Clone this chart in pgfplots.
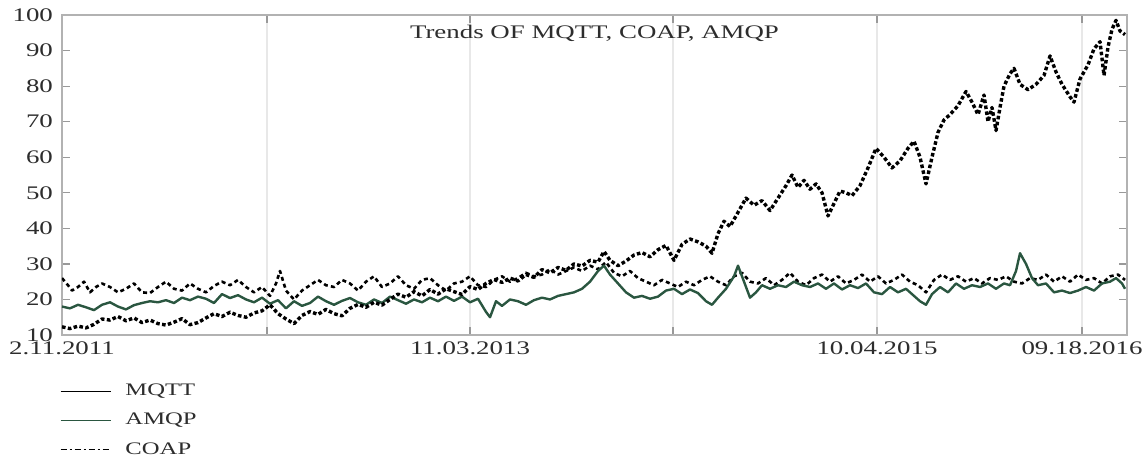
\documentclass[border=0pt]{standalone}
\usepackage{fontspec}
\setmainfont[FakeStretch=1.4]{Liberation Serif}
\usepackage{pgfplots}
\pgfplotsset{compat=1.18}
\definecolor{amqpgreen}{RGB}{42,86,64}
\definecolor{txt}{RGB}{45,45,45}
\begin{document}
\begin{tikzpicture}[font=\fontsize{9.6}{11.5}\selectfont]
\path[use as bounding box] (0,0) rectangle (572pt,228pt);
\begin{axis}[
  at={(31pt,60.5pt)}, anchor=south west,
  scale only axis, width=532.5pt, height=160pt,
  xmin=62, xmax=1127, ymin=10, ymax=100,
  xtick={62,267,470,673,877,1082},
  xticklabels={2.11.2011,,11.03.2013,,10.04.2015,09.18.2016},
  ytick={10,20,...,100},
  /pgf/number format/assume math mode=true,
  tick align=inside, xtick pos=both, ytick pos=both,
  major tick length=4pt,
  tick style={black!40, line width=0.6pt},
  axis line style={black!30, line width=0.7pt},
  xmajorgrids, grid style={black!9, line width=0.9pt},
  ticklabel style={text=txt},
  yticklabel style={xshift=-1pt},
  legend image code/.code={\draw[#1] (0pt,0pt) -- (25pt,0pt);},
  legend style={at={(-0.008,-0.127)}, anchor=north west, draw=none, fill=none,
    text=txt, row sep=3.3pt, font=\fontsize{8.8}{10.5}\selectfont,
    /tikz/every odd column/.append style={column sep=5pt}},
  legend cell align=left,
]
\node[text=txt] at (rel axis cs:0.5,0.944) {Trends OF MQTT, COAP, AMQP};
\addlegendimage{black, solid, line width=0.6pt}
\addlegendentry{MQTT}
\addlegendimage{amqpgreen, solid, line width=0.8pt}
\addlegendentry{AMQP}
\addlegendimage{black, line width=0.6pt, dash pattern=on 3pt off 1.5pt on 1pt off 1.5pt}
\addlegendentry{COAP}

% COAP
\addplot[forget plot, black, line width=1.3pt, dash pattern=on 2pt off 1.6pt, line join=round] coordinates {
(62,26.0)(68,24.0)(72,22.5)(78,23.5)(84,25.0)(90,22.0)(96,23.5)(102,24.5)(110,23.5)(118,22.0)
(126,23.0)(134,24.5)(142,22.0)(150,21.8)(158,23.5)(166,25.0)(174,23.0)(182,22.5)(190,24.5)(198,23.0)
(206,22.0)(214,23.8)(222,25.0)(230,24.0)(238,25.5)(246,23.5)(254,22.0)(262,23.5)(270,21.0)(276,24.5)
(280,28.0)(286,22.5)(294,20.0)(302,22.5)(310,24.0)(318,25.5)(326,24.0)(334,23.5)(342,25.5)(350,24.5)
(358,22.5)(366,25.0)(374,26.5)(382,23.5)(390,24.5)(398,26.5)(406,24.0)(414,23.0)(422,25.5)(430,26.0)
(438,24.0)(446,22.5)(454,24.5)(462,25.0)(470,26.5)(478,24.0)(486,23.5)(494,25.5)(502,26.5)(510,25.0)
(518,26.0)(526,27.5)(534,26.5)(542,27.0)(550,28.5)(558,27.0)(566,28.0)(574,29.0)(582,28.0)(590,29.5)
(598,28.5)(606,30.5)(614,27.5)(622,26.5)(630,28.0)(638,26.0)(646,25.0)(654,24.0)(662,25.5)(670,24.5)
(678,23.5)(686,25.0)(694,24.0)(702,25.5)(710,26.5)(718,25.0)(726,24.0)(734,26.5)(742,27.5)(750,25.0)
(758,24.5)(766,26.0)(774,24.0)(782,25.5)(790,27.5)(798,25.0)(806,24.0)(814,26.0)(822,27.0)(830,25.0)
(838,26.5)(846,24.5)(854,25.5)(862,27.0)(870,25.0)(878,26.5)(886,24.5)(894,25.5)(902,27.0)(910,25.0)
(918,24.0)(926,22.0)(934,25.5)(942,27.0)(950,25.5)(958,26.5)(966,25.0)(974,26.0)(982,24.5)(990,26.0)
(998,25.5)(1006,26.5)(1014,25.0)(1022,24.5)(1030,26.0)(1038,25.5)(1046,27.0)(1054,25.0)(1062,26.5)(1070,25.0)
(1078,27.0)(1086,25.5)(1094,26.0)(1102,24.5)(1110,26.5)(1118,27.0)(1125,25.5)
};
% AMQP
\addplot[forget plot, amqpgreen, line width=1.2pt, line join=round] coordinates {
(62,18.0)(70,17.5)(78,18.5)(86,17.8)(94,17.0)(102,18.5)(110,19.2)(118,18.0)(126,17.2)(134,18.4)
(142,19.0)(150,19.5)(158,19.2)(166,19.8)(174,19.0)(182,20.5)(190,19.8)(198,20.8)(206,20.2)(214,19.0)
(222,21.5)(230,20.4)(238,21.2)(246,20.0)(254,19.2)(262,20.5)(270,18.8)(278,19.8)(286,17.5)(294,19.5)
(302,18.2)(310,19.0)(318,20.8)(326,19.5)(334,18.5)(342,19.6)(350,20.4)(358,19.2)(366,18.5)(374,20.0)
(382,19.0)(390,20.8)(398,19.8)(406,18.8)(414,20.0)(422,19.2)(430,20.5)(438,19.5)(446,20.8)(454,19.6)
(462,20.8)(470,19.2)(478,20.2)(486,16.5)(490,15.0)(496,19.5)(502,18.2)(510,20.0)(518,19.5)(526,18.5)
(534,19.8)(542,20.5)(550,20.0)(558,21.0)(566,21.5)(574,22.0)(582,23.0)(590,25.0)(598,28.0)(604,29.5)
(610,27.0)(618,24.5)(626,22.0)(634,20.5)(642,21.0)(650,20.2)(658,20.8)(666,22.5)(674,23.0)(682,21.5)
(690,22.8)(698,21.8)(706,19.5)(712,18.5)(718,20.5)(726,23.0)(734,26.5)(738,29.5)(744,25.0)(750,20.5)
(756,22.0)(762,24.0)(770,23.0)(778,24.0)(786,23.5)(794,25.0)(802,24.0)(810,23.5)(818,24.5)(826,23.0)
(834,24.5)(842,22.8)(850,24.0)(858,23.2)(866,24.5)(874,22.0)(882,21.5)(890,23.5)(898,22.0)(906,23.0)
(914,21.0)(920,19.5)(926,18.5)(932,21.5)(940,23.5)(948,22.0)(956,24.5)(964,23.0)(972,24.0)(980,23.5)
(988,24.5)(996,23.0)(1004,24.5)(1010,24.0)(1016,28.0)(1020,33.0)(1026,30.0)(1032,26.0)(1038,24.0)(1046,24.5)
(1054,22.0)(1062,22.5)(1070,21.8)(1078,22.5)(1086,23.5)(1094,22.5)(1102,24.5)(1110,25.0)(1116,26.0)(1122,24.5)
(1125,23.0)
};
% MQTT
\addplot[forget plot, black, line width=1.7pt, dash pattern=on 1.8pt off 1.2pt, line join=round] coordinates {
(62,12.3)(70,11.8)(78,12.5)(86,12.0)(94,13.0)(102,14.5)(110,14.2)(118,15.2)(126,14.0)(134,14.8)
(142,13.5)(150,14.2)(158,13.2)(166,12.8)(174,13.6)(182,14.6)(190,12.9)(198,13.5)(206,14.8)(214,16.0)
(222,15.2)(230,16.4)(238,15.5)(246,15.0)(254,16.2)(262,16.8)(270,18.5)(278,16.0)(286,14.5)(294,13.2)
(302,15.5)(310,16.6)(318,15.8)(326,17.2)(334,16.0)(342,15.4)(350,17.5)(358,18.6)(366,17.8)(374,19.2)
(382,18.4)(390,20.0)(398,21.5)(406,20.6)(414,22.2)(422,21.0)(430,22.8)(438,21.5)(446,23.0)(454,22.2)
(462,21.4)(470,23.6)(478,22.8)(486,24.5)(494,25.6)(502,24.8)(510,26.0)(518,25.2)(526,27.0)(534,26.2)
(542,28.4)(550,27.5)(558,29.0)(566,28.2)(574,30.0)(582,29.4)(590,31.0)(598,30.5)(604,33.5)(610,31.0)
(618,29.5)(626,30.8)(634,32.5)(642,33.2)(650,32.0)(658,34.0)(666,35.2)(674,31.0)(682,35.5)(690,37.0)
(698,36.2)(706,35.0)(712,33.0)(718,38.5)(724,42.0)(730,40.5)(738,44.5)(746,48.5)(754,46.5)(762,47.8)
(770,45.0)(778,48.5)(786,52.0)(792,55.0)(798,51.5)(804,53.5)(810,51.0)(816,52.5)(822,50.0)(828,43.5)
(834,47.0)(840,50.5)(846,50.0)(852,49.2)(860,52.0)(868,57.0)(876,62.5)(884,60.0)(892,57.0)(900,59.0)
(908,62.5)(914,64.5)(920,60.0)(926,52.5)(932,60.0)(938,67.0)(944,70.5)(950,72.0)(958,74.5)(966,78.5)
(972,75.5)(978,72.0)(984,77.5)(988,70.0)(992,74.0)(996,67.5)(1000,74.0)(1004,80.0)(1010,83.5)(1014,85.0)
(1020,80.5)(1028,79.0)(1036,80.5)(1044,83.0)(1050,88.5)(1056,84.0)(1062,80.5)(1070,77.0)(1074,75.5)(1080,82.0)
(1088,86.0)(1094,90.5)(1100,92.5)(1104,83.0)(1108,91.0)(1112,96.0)(1116,98.5)(1120,95.5)(1125,94.5)
};
\end{axis}
\end{tikzpicture}
\end{document}
